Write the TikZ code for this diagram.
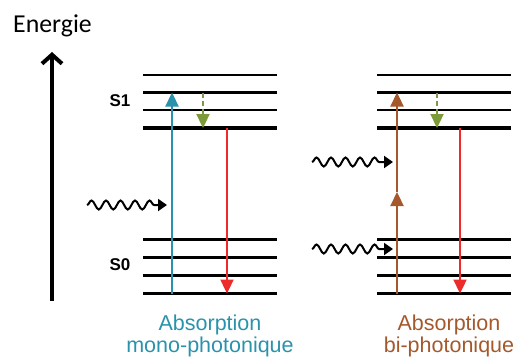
\documentclass[tikz,border=0pt]{standalone}
\usepackage{fontspec}
\setmainfont{Liberation Sans}
\newfontfamily\calibri{Carlito}
\usetikzlibrary{arrows.meta,
        decorations.pathmorphing}
\definecolor{mono}{RGB}{42,147,171}
\definecolor{bi}{RGB}{165,88,43}
\definecolor{relax}{RGB}{124,154,58}
\definecolor{fluo}{RGB}{238,43,43}
\tikzset{niveau/.style={line width=2.6pt},
        fondamental/.style={line width=3.8pt},
        transition/.style={line width=2.3pt,-{Triangle[length=14pt,width=13pt]}},
        photon/.style={line width=2pt,decorate,
                decoration={snake,amplitude=4.5pt,segment length=14.5pt,post length=8pt},
                -{Triangle[length=9pt,width=12pt]}}}

\begin{document}
\begin{tikzpicture}[x=1pt,y=-1pt]
            \useasboundingbox (0,0) rectangle (518,359);
            \node [anchor=base,font=\calibri\fontsize{25.8}{30}\selectfont] (energie) at (52.5,32) {Energie};
            \coordinate (eBas) at (52,301);
            \coordinate (eHaut) at (52,52);
            \draw [line width=4pt,-{Straight Barb[length=9pt,width=20pt]}] (eBas) -- (eHaut);

            \foreach \x in {143,377} {
                \foreach \y in {75,92.5,110,239.5,257.5,275.5}
                    \draw [niveau] (\x,\y) -- ++(134,0);
                \draw [fondamental] (\x,128) -- ++(134,0);
                \draw [fondamental] (\x,293.5) -- ++(134,0);
            }
            \node [font=\bfseries\fontsize{17}{20}\selectfont] (S1) at (120,101) {S1};
            \node [font=\bfseries\fontsize{17}{20}\selectfont] (S0) at (120,265) {S0};

            \coordinate (mAbsBas) at (172,293.5);
            \coordinate (mAbsHaut) at (172,92.5);
            \coordinate (mRelHaut) at (203,92.5);
            \coordinate (mRelBas) at (203,128);
            \coordinate (mFluoHaut) at (227,128);
            \coordinate (mFluoBas) at (227,293.5);
            \coordinate (mPhotonA) at (87,205);
            \coordinate (mPhotonB) at (167,205);

            \coordinate (bAbsBas) at (397,293.5);
            \coordinate (bAbsMil) at (397,192);
            \coordinate (bAbsHaut) at (397,92.5);
            \coordinate (bRelHaut) at (437,92.5);
            \coordinate (bRelBas) at (437,128);
            \coordinate (bFluoHaut) at (460,128);
            \coordinate (bFluoBas) at (460,293.5);
            \coordinate (bPhoton1A) at (312,249);
            \coordinate (bPhoton1B) at (393,249);
            \coordinate (bPhoton2A) at (312,162);
            \coordinate (bPhoton2B) at (393,162);

            \draw [transition,mono] (mAbsBas) -- (mAbsHaut);
            \draw [transition,relax,dash pattern=on 5pt off 3pt] (mRelHaut) -- (mRelBas);
            \draw [transition,fluo] (mFluoHaut) -- (mFluoBas);
            \draw [photon] (mPhotonA) -- (mPhotonB);

            \draw [transition,bi] (bAbsBas) -- (bAbsMil);
            \draw [transition,bi] (bAbsMil) -- (bAbsHaut);
            \draw [transition,relax,dash pattern=on 5pt off 3pt] (bRelHaut) -- (bRelBas);
            \draw [transition,fluo] (bFluoHaut) -- (bFluoBas);
            \draw [photon] (bPhoton1A) -- (bPhoton1B);
            \draw [photon] (bPhoton2A) -- (bPhoton2B);

            \node [anchor=base,align=center,text=mono,font=\fontsize{21.5}{19}\selectfont] (mono) at (210,352) {Absorption\\mono-photonique};
            \node [anchor=base,align=center,text=bi,font=\fontsize{21.5}{19}\selectfont] (biph) at (449,352) {Absorption\\bi-photonique};
        \end{tikzpicture}
\end{document}
